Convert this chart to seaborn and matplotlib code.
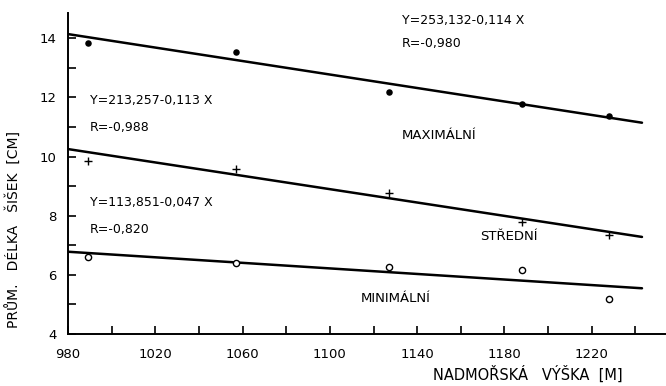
import numpy as np
import pandas as pd
import matplotlib
matplotlib.use("Agg")
import matplotlib.pyplot as plt
import seaborn as sns

# ---- data ----
altitude = [989, 1057, 1127, 1188, 1228]
max_len = [13.83, 13.53, 12.17, 11.76, 11.36]
mid_len = [9.86, 9.59, 8.78, 7.80, 7.36]
min_len = [6.61, 6.41, 6.27, 6.17, 5.19]

# regression equations as printed (Y in mm)
eq_intercepts = [253.132, 213.257, 113.851]
eq_slopes = [-0.114, -0.113, -0.047]
eq_labels = ["Y=253,132-0,114 X", "Y=213,257-0,113 X", "Y=113,851-0,047 X"]
r_labels = ["R=-0,980", "R=-0,988", "R=-0,820"]
line_x = [980, 1243]
group_names = ["MAXIMÁLNÍ", "STŘEDNÍ", "MINIMÁLNÍ"]

x_major = [980, 1020, 1060, 1100, 1140, 1180, 1220]
y_major = [4, 6, 8, 10, 12, 14]

sns.set_style("ticks")
plt.rcParams['font.family'] = ['DejaVu Sans']
plt.rcParams['text.color'] = 'black'
plt.rcParams['xtick.color'] = 'black'
plt.rcParams['ytick.color'] = 'black'

fig = plt.figure(figsize=(6.66, 3.86), dpi=100)
ax = fig.add_axes([0.102, 0.135, 0.898, 0.831])

pts = pd.DataFrame({"x": altitude, "max": max_len, "mid": mid_len, "min": min_len})

sns.scatterplot(data=pts, x="x", y="max", ax=ax, color="black", marker="o", s=22,
                edgecolor="black", linewidth=0, zorder=3)
sns.scatterplot(data=pts, x="x", y="mid", ax=ax, color="black", marker="+", s=30,
                linewidth=1.0, zorder=3)
sns.scatterplot(data=pts, x="x", y="min", ax=ax, facecolor="white", marker="o", s=20,
                edgecolor="black", linewidth=1.0, zorder=3)

for a, b in zip(eq_intercepts, eq_slopes):
    lx = np.array(line_x, dtype=float)
    ly = (a + b * lx) / 10.0
    sns.lineplot(x=lx, y=ly, ax=ax, color="black", linewidth=1.8)

ax.set_xlim(980, 1254)
ax.set_ylim(4, 14.85)
ax.set_xticks(x_major)
ax.set_xticklabels([str(v) for v in x_major])
ax.set_xticks(np.arange(1000, 1260, 40), minor=True)
ax.set_yticks(y_major)
ax.set_yticks([5, 7, 9, 11, 13], minor=True)
ax.tick_params(axis="both", which="both", direction="in", length=6, width=1.2,
               labelsize=9.5, colors="black")
ax.tick_params(axis="x", pad=10)
ax.tick_params(axis="y", pad=8)
for s in ["top", "right"]:
    ax.spines[s].set_visible(False)
for s in ["left", "bottom"]:
    ax.spines[s].set_linewidth(1.4)
    ax.spines[s].set_color("black")
ax.set_xlabel("")
ax.set_ylabel("")

fs = 9
fsg = 9.5
ax.text(1133, 14.61, eq_labels[0], fontsize=fs, va="center", ha="left")
ax.text(1133, 13.83, r_labels[0], fontsize=fs, va="center", ha="left")
ax.text(1133, 10.71, group_names[0], fontsize=fsg, va="center", ha="left")
ax.text(990, 11.90, eq_labels[1], fontsize=fs, va="center", ha="left")
ax.text(990, 10.98, r_labels[1], fontsize=fs, va="center", ha="left")
ax.text(1169, 7.29, group_names[1], fontsize=fsg, va="center", ha="left")
ax.text(990, 8.44, eq_labels[2], fontsize=fs, va="center", ha="left")
ax.text(990, 7.53, r_labels[2], fontsize=fs, va="center", ha="left")
ax.text(1114, 5.19, group_names[2], fontsize=fsg, va="center", ha="left")

fig.text(14 / 666, 1 - 230 / 386, "PRŮM.   DÉLKA   ŠIŠEK  [CM]", rotation=90,
         fontsize=10, ha="center", va="center")
fig.text(528 / 666, 1 - 374 / 386, "NADMOŘSKÁ   VÝŠKA  [M]", fontsize=10.5,
         ha="center", va="center")

fig.savefig("out.png", dpi=100)
